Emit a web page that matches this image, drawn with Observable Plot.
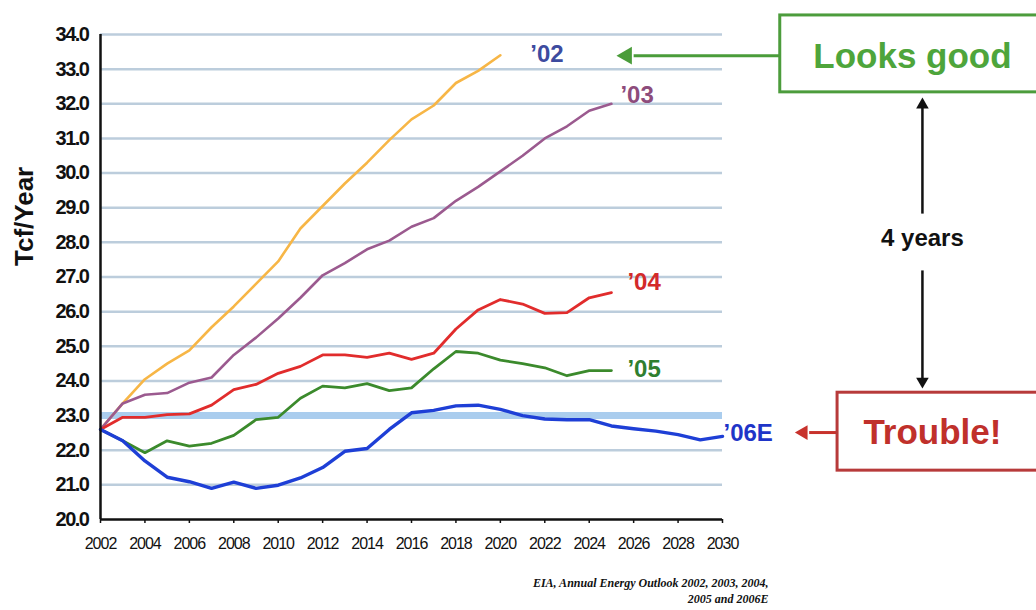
<!DOCTYPE html>
<html>
<head>
<meta charset="utf-8">
<script src="https://cdn.jsdelivr.net/npm/d3@7"></script>
<script src="https://cdn.jsdelivr.net/npm/@observablehq/plot@0.6"></script>
<style>
  html, body { margin: 0; padding: 0; background: #ffffff; }
  #chart { width: 1036px; height: 610px; overflow: hidden; }
  g[aria-label="y-axis tick label"] text { letter-spacing: -1.5px; }
  g[aria-label="x-axis tick label"] text { letter-spacing: -1px; }
</style>
</head>
<body>
<div id="chart"></div>
<script>
// Projection years (x axis) and the five AEO natural-gas consumption forecasts, Tcf/year
const years = [2002, 2003, 2004, 2005, 2006, 2007, 2008, 2009, 2010, 2011, 2012, 2013, 2014, 2015,
  2016, 2017, 2018, 2019, 2020, 2021, 2022, 2023, 2024, 2025, 2026, 2027, 2028, 2029, 2030];

const seriesNames = ["’02", "’03", "’04", "’05", "’06E"];

const aeo2002 = [22.6, 23.35, 24.05, 24.5, 24.88, 25.55, 26.15, 26.8, 27.45, 28.4, 29.05, 29.7, 30.3,
  30.95, 31.55, 31.95, 32.6, 32.95, 33.4];
const aeo2003 = [22.6, 23.35, 23.6, 23.65, 23.95, 24.1, 24.75, 25.25, 25.8, 26.4, 27.05, 27.4, 27.8,
  28.05, 28.45, 28.7, 29.2, 29.6, 30.05, 30.5, 31.0, 31.35, 31.8, 32.0];
const aeo2004 = [22.6, 22.95, 22.95, 23.03, 23.05, 23.3, 23.75, 23.9, 24.22, 24.42, 24.75, 24.75, 24.68,
  24.8, 24.62, 24.8, 25.5, 26.05, 26.35, 26.22, 25.95, 25.97, 26.4, 26.55];
const aeo2005 = [22.6, 22.27, 21.93, 22.27, 22.12, 22.2, 22.43, 22.88, 22.95, 23.5, 23.85, 23.8, 23.92,
  23.72, 23.8, 24.35, 24.85, 24.8, 24.6, 24.5, 24.38, 24.15, 24.3, 24.3];
const aeo2006 = [22.6, 22.27, 21.69, 21.22, 21.09, 20.9, 21.08, 20.9, 20.99, 21.2, 21.5, 21.97, 22.05,
  22.6, 23.08, 23.15, 23.28, 23.3, 23.18, 23.0, 22.9, 22.88, 22.88, 22.7, 22.62, 22.55, 22.45, 22.3, 22.4];

const yTicks = [20, 21, 22, 23, 24, 25, 26, 27, 28, 29, 30, 31, 32, 33, 34];
const xTicks = [2002, 2004, 2006, 2008, 2010, 2012, 2014, 2016, 2018, 2020, 2022, 2024, 2026, 2028, 2030];
const gridLevels = [21, 22, 24, 25, 26, 27, 28, 29, 30, 31, 32, 33, 34];
const thresholdLevel = [23];

const captionText = "EIA, Annual Energy Outlook 2002, 2003, 2004,\n2005 and 2006E";
const yTitle = "Tcf/Year";

// Long-format table built from the named arrays
const seriesValues = [aeo2002, aeo2003, aeo2004, aeo2005, aeo2006];
const rows = seriesNames.flatMap((name, i) =>
  seriesValues[i].map((v, j) => ({series: name, year: years[j], value: v})));

// Per-series drawing style: line colour/width, label colour and label offset from the last point
const styles = {
  "’02":  {stroke: "#f7b646", width: 2.6, label: "#3d4b9f", dx: 30, dy: -1},
  "’03":  {stroke: "#9b5a8f", width: 2.6, label: "#8d4c7c", dx: 9,  dy: -8},
  "’04":  {stroke: "#e12c2c", width: 2.8, label: "#d32a2a", dx: 16, dy: -10},
  "’05":  {stroke: "#3b8a2c", width: 2.8, label: "#2f7f2f", dx: 16, dy: -1},
  "’06E": {stroke: "#1e3fd6", width: 3.4, label: "#1f35c8", dx: 1,  dy: -3}
};

// Callout boxes and arrows on the right, placed in the chart's own year/value units
const goodBox = {x1: 2032.6, x2: 2046, y1: 34.55, y2: 32.33};
const troubleBox = {x1: 2035.18, x2: 2046, y1: 23.66, y2: 21.41};
const goodLabel = {x: 2038.55, y: 33.36, text: "Looks good"};
const troubleLabel = {x: 2039.45, y: 22.5, text: "Trouble!"};
const spanLabel = {x: 2039.0, y: 28.11, text: "4 years"};
const greenShaft = [{x1: 2026.0, x2: 2032.6, y1: 33.39, y2: 33.39}];
const greenHead = [{x: 2025.69, y: 33.39}];
const redShaft = [{x1: 2033.9, x2: 2035.18, y1: 22.51, y2: 22.51}];
const redHead = [{x: 2033.64, y: 22.51}];
const spanShafts = [
  {x1: 2039.0, x2: 2039.0, y1: 31.9, y2: 28.83},
  {x1: 2039.0, x2: 2039.0, y1: 27.19, y2: 24.05}
];
const spanHeadUp = [{x: 2039.0, y: 31.97}];
const spanHeadDown = [{x: 2039.0, y: 23.99}];

const sans = "'Liberation Sans', Arial, Helvetica, sans-serif";
const narrow = "'Liberation Sans Narrow', 'Arial Narrow', 'Liberation Sans', sans-serif";

const lineMarks = seriesNames.map(name =>
  Plot.line(rows.filter(d => d.series === name), {
    x: "year", y: "value",
    stroke: styles[name].stroke, strokeWidth: styles[name].width,
    strokeLinejoin: "round", strokeLinecap: "round"
  }));

const labelMarks = seriesNames.map(name =>
  Plot.text(rows.filter(d => d.series === name).slice(-1), {
    x: "year", y: "value", text: () => name,
    textAnchor: "start", dx: styles[name].dx, dy: styles[name].dy,
    fill: styles[name].label, fontSize: 24, fontWeight: "bold", fontFamily: sans
  }));

const chart = Plot.plot({
  width: 1036,
  height: 610,
  marginLeft: 100,
  marginRight: 314,
  marginTop: 34,
  marginBottom: 91,
  style: {background: "#ffffff", fontFamily: sans, color: "#111"},
  x: {domain: [2002, 2030]},
  y: {domain: [20, 34]},
  marks: [
    Plot.ruleY(gridLevels, {stroke: "#bccddc", strokeWidth: 2.5}),
    Plot.ruleY(thresholdLevel, {stroke: "#aacdee", strokeWidth: 7}),
    Plot.axisY({
      ticks: yTicks, tickSize: 0, tickPadding: 12, label: null,
      tickFormat: d => d.toFixed(1),
      fontSize: 20, fontWeight: "bold", fontFamily: narrow, fill: "#111"
    }),
    Plot.axisX({
      ticks: xTicks, tickSize: 4, tickPadding: 14, label: null,
      tickFormat: d => String(d), stroke: "#111", strokeWidth: 1.5,
      fontSize: 16, fontFamily: narrow, fill: "#111"
    }),
    Plot.text([yTitle], {
      frameAnchor: "left", rotate: -90, dx: -76, dy: -11,
      fontSize: 26, fontWeight: "bold", fontFamily: sans, fill: "#111"
    }),
    ...lineMarks,
    Plot.ruleX([2002], {stroke: "#111", strokeWidth: 2.5}),
    Plot.ruleY([20], {stroke: "#111", strokeWidth: 2.5}),
    ...labelMarks,

    // "Looks good" callout
    Plot.link(greenShaft, {x1: "x1", x2: "x2", y1: "y1", y2: "y2", stroke: "#4a9c3a", strokeWidth: 3}),
    Plot.dot(greenHead, {x: "x", y: "y", symbol: "triangle2", r: 8.5, rotate: -90, fill: "#4a9c3a"}),
    Plot.rect([goodBox], {x1: "x1", x2: "x2", y1: "y1", y2: "y2", fill: "white", stroke: "#4c9c3c", strokeWidth: 3}),
    Plot.text([goodLabel], {x: "x", y: "y", text: "text", fontSize: 35, fontWeight: "bold", fontFamily: sans, fill: "#4ea53b"}),

    // "Trouble!" callout
    Plot.link(redShaft, {x1: "x1", x2: "x2", y1: "y1", y2: "y2", stroke: "#c8322c", strokeWidth: 3}),
    Plot.dot(redHead, {x: "x", y: "y", symbol: "triangle2", r: 7, rotate: -90, fill: "#c8322c"}),
    Plot.rect([troubleBox], {x1: "x1", x2: "x2", y1: "y1", y2: "y2", fill: "white", stroke: "#b73a3a", strokeWidth: 3}),
    Plot.text([troubleLabel], {x: "x", y: "y", text: "text", fontSize: 35, fontWeight: "bold", fontFamily: sans, fill: "#c0302b"}),

    // Double-headed "4 years" arrow between the callouts
    Plot.link(spanShafts, {x1: "x1", x2: "x2", y1: "y1", y2: "y2", stroke: "#111", strokeWidth: 2.5}),
    Plot.dot(spanHeadUp, {x: "x", y: "y", symbol: "triangle2", r: 6, fill: "#111"}),
    Plot.dot(spanHeadDown, {x: "x", y: "y", symbol: "triangle2", r: 6, rotate: 180, fill: "#111"}),
    Plot.text([spanLabel], {x: "x", y: "y", text: "text", fontSize: 24, fontWeight: "bold", fontFamily: sans, fill: "#111"}),

    // Source note
    Plot.text([captionText], {
      frameAnchor: "bottom-right", textAnchor: "end", lineAnchor: "middle",
      dx: 46, dy: 70, lineHeight: 1.35,
      fontSize: 12, fontWeight: "bold", fontStyle: "italic",
      fontFamily: "'Liberation Serif', 'Times New Roman', serif", fill: "#111"
    })
  ]
});

document.getElementById("chart").appendChild(chart);
</script>
</body>
</html>
